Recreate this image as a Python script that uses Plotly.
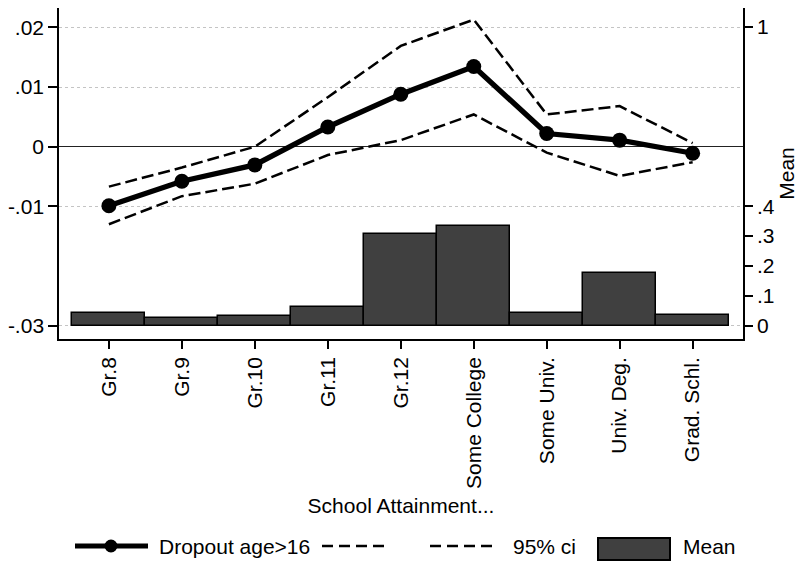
import plotly.graph_objects as go

categories = ["Gr.8", "Gr.9", "Gr.10", "Gr.11", "Gr.12", "Some College",
              "Some Univ.", "Univ. Deg.", "Grad. Schl."]
dropout = [-0.0099, -0.0058, -0.00305, 0.0033, 0.0088, 0.01345, 0.0022, 0.0011, -0.0011]
ci_upper = [-0.0067, -0.0035, 0.0000, 0.0083, 0.0169, 0.0213, 0.0054, 0.0068, 0.0006]
ci_lower = [-0.0130, -0.0083, -0.0062, -0.0014, 0.0011, 0.0054, -0.0010, -0.0049, -0.0026]
mean_share = [0.043, 0.027, 0.033, 0.063, 0.307, 0.333, 0.043, 0.177, 0.037]

left_ticks = [0.02, 0.01, 0.0, -0.01, -0.03]
left_ticktext = [".02", ".01", "0", "-.01", "-.03"]
right_ticks = [0, 0.1, 0.2, 0.3, 0.4, 1]
right_ticktext = ["0", ".1", ".2", ".3", ".4", "1"]

FONT = "Liberation Sans, Arial, Helvetica, sans-serif"
FS = 21
# page has an 8px body margin; figure is sized so it ends at the window edge
OFF = 8
W, H = 803 - OFF, 564 - OFF
# plot area in reference-window pixels
RL, RR, RT, RB = 59, 743, 8, 339
PL, PR, PT, PB = RL - OFF, RR - OFF, RT - OFF, RB - OFF

xs = list(range(len(categories)))
dash = "12px,5px"
legend_dash = "11px,6px"

fig = go.Figure()
fig.add_trace(go.Bar(x=xs, y=mean_share, yaxis="y2", width=1.0,
                     marker=dict(color="#404040", line=dict(color="black", width=1.5)),
                     name="Mean", showlegend=False))
fig.add_trace(go.Scatter(x=xs, y=ci_upper, mode="lines",
                         line=dict(color="black", width=2.5, dash=dash), showlegend=False))
fig.add_trace(go.Scatter(x=xs, y=ci_lower, mode="lines",
                         line=dict(color="black", width=2.5, dash=dash), showlegend=False))
fig.add_trace(go.Scatter(x=xs, y=dropout, mode="lines+markers",
                         line=dict(color="black", width=5.3),
                         marker=dict(color="black", size=15), showlegend=False))


def px_x(p):
    return (p - RL) / (RR - RL)


def px_y(p):
    return (RB - p) / (RB - RT)


shapes = []
annotations = []
ly = 546
shapes.append(dict(type="line", xref="paper", yref="paper",
                   x0=px_x(75), x1=px_x(148), y0=px_y(ly), y1=px_y(ly),
                   line=dict(color="black", width=5)))
shapes.append(dict(type="circle", xref="paper", yref="paper",
                   x0=px_x(111 - 6.5), x1=px_x(111 + 6.5),
                   y0=px_y(ly + 6.5), y1=px_y(ly - 6.5),
                   fillcolor="black", line=dict(color="black", width=0)))
for a, b in [(322, 386), (430, 495)]:
    shapes.append(dict(type="line", xref="paper", yref="paper",
                       x0=px_x(a), x1=px_x(b), y0=px_y(ly), y1=px_y(ly),
                       line=dict(color="black", width=2.5, dash=legend_dash)))
shapes.append(dict(type="rect", xref="paper", yref="paper",
                   x0=px_x(598), x1=px_x(670), y0=px_y(560), y1=px_y(538),
                   fillcolor="#404040", line=dict(color="black", width=2)))
for txt, xp in [("Dropout age>16", 157), ("95% ci", 511), ("Mean", 681)]:
    annotations.append(dict(text=txt, xref="paper", yref="paper",
                            x=px_x(xp), y=px_y(ly), xanchor="left", yanchor="middle",
                            showarrow=False, font=dict(family=FONT, size=FS, color="black")))

fig.update_layout(
    width=W, height=H,
    margin=dict(l=PL, r=W - PR, t=PT, b=H - PB, pad=0, autoexpand=False),
    paper_bgcolor="white", plot_bgcolor="white",
    font=dict(family=FONT, size=FS, color="black"),
    showlegend=False,
    bargap=0,
    xaxis=dict(range=[-0.684, 8.69], tickmode="array", tickvals=xs, ticktext=categories,
               tickangle=-90, ticks="outside", ticklen=8, tickwidth=1.5, tickcolor="black",
               showline=True, linecolor="black", linewidth=1.5, showgrid=False, zeroline=False,
               tickfont=dict(size=FS),
               title=dict(text="School Attainment...", font=dict(size=FS), standoff=10)),
    yaxis=dict(range=[-0.03224, 0.02325], tickmode="array", tickvals=left_ticks,
               ticktext=left_ticktext, ticks="outside", ticklen=9, tickwidth=1.5,
               tickcolor="black", showline=True, linecolor="black", linewidth=1.5,
               showgrid=True, gridcolor="#c4c4c4", griddash="dot", gridwidth=1,
               zeroline=True, zerolinecolor="#222222", zerolinewidth=1.2,
               tickfont=dict(size=FS)),
    yaxis2=dict(range=[-0.0445, 1.0636], overlaying="y", side="right", anchor="x",
                tickmode="array", tickvals=right_ticks, ticktext=right_ticktext,
                ticks="outside", ticklen=8, tickwidth=1.5, tickcolor="black",
                showline=True, linecolor="black", linewidth=1.5, showgrid=False,
                zeroline=False, tickfont=dict(size=FS),
                title=dict(text="Mean", font=dict(size=FS), standoff=6)),
    shapes=shapes, annotations=annotations,
)

fig.write_html("out.html")
